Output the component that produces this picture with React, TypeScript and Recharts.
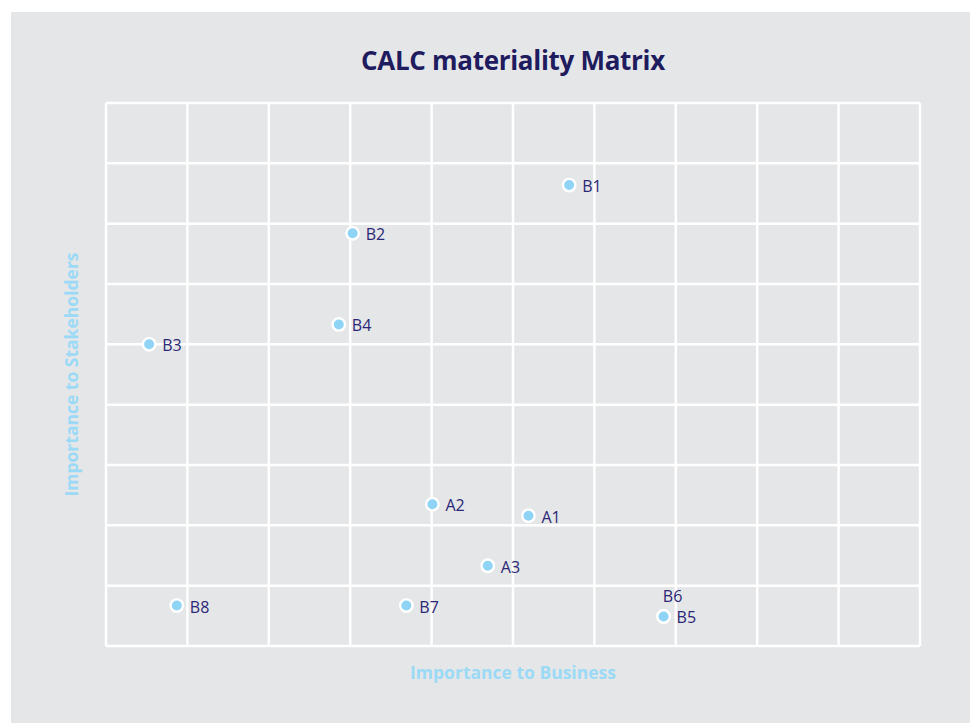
import React from 'react';
import { ScatterChart, Scatter, XAxis, YAxis, ZAxis, CartesianGrid, LabelList, Label } from 'recharts';

const pointNames = ['B1', 'B2', 'B4', 'B3', 'A2', 'A1', 'A3', 'B8', 'B7', 'B6', 'B5'];
const businessValues = [5.69, 3.03, 2.86, 0.53, 4.01, 5.19, 4.69, 0.87, 3.69, 6.85, 6.85];
const stakeholderValues = [7.64, 6.84, 5.33, 5.0, 2.35, 2.16, 1.33, 0.67, 0.67, 0.49, 0.49];
const xTicks = [0, 1, 2, 3, 4, 5, 6, 7, 8, 9, 10];
const yTicks = [0, 1, 2, 3, 4, 5, 6, 7, 8, 9];
const labelAbove = ['B6'];

const data = pointNames.map((name, i) => ({ name, x: businessValues[i], y: stakeholderValues[i] }));

const FONT = '"Open Sans", "Noto Sans", sans-serif';
const NAVY = '#2b2777';
const LIGHT_BLUE = '#9bdaf6';

const Dot = (props: any) => {
  const { cx, cy } = props;
  return <circle cx={cx} cy={cy} r={6.2} fill="#90d4f5" stroke="#ffffff" strokeWidth={2.4} />;
};

const EmptyTick = () => <g />;

const PointLabel = (props: any) => {
  const { viewBox, value } = props;
  if (!viewBox) return null;
  const cx = viewBox.x + (viewBox.width || 0) / 2;
  const cy = viewBox.y + (viewBox.height || 0) / 2;
  if (labelAbove.includes(value)) {
    return (
      <text x={cx + 9} y={cy - 20} textAnchor="middle" dominantBaseline="central" fill={NAVY} fontSize={16} fontFamily={FONT}>
        {value}
      </text>
    );
  }
  return (
    <text x={cx + 13} y={cy + 1} textAnchor="start" dominantBaseline="central" fill={NAVY} fontSize={16} fontFamily={FONT}>
      {value}
    </text>
  );
};

export default function App() {
  return (
    <div style={{ position: 'absolute', left: 0, top: 0, width: 970, height: 723, background: '#ffffff', overflow: 'hidden' }}>
      <div style={{ position: 'absolute', left: 11, top: 12, width: 959, height: 711, background: '#e5e6e8' }} />
      <div
        style={{
          position: 'absolute',
          left: 0,
          top: 43,
          width: 1026,
          textAlign: 'center',
          fontFamily: FONT,
          fontWeight: 700,
          fontSize: 26,
          lineHeight: '34px',
          color: '#1f1b5f',
          letterSpacing: -0.3,
        }}
      >
        CALC materiality Matrix
      </div>
      <div style={{ position: 'absolute', left: 0, top: 0 }}>
        <ScatterChart width={970} height={723} margin={{ top: 103, right: 50, bottom: 23, left: 38 }}>
          <CartesianGrid stroke="#ffffff" strokeWidth={2.5} vertical horizontal fill="none" />
          <XAxis
            type="number"
            dataKey="x"
            domain={[0, 10]}
            ticks={xTicks}
            tick={EmptyTick}
            tickLine={false}
            axisLine={false}
            height={54}
            interval={0}
            allowDataOverflow
          >
            <Label
              value="Importance to Business"
              position="center"
              fill={LIGHT_BLUE}
              fontSize={17.5}
              fontWeight={700}
              fontFamily={FONT}
            />
          </XAxis>
          <YAxis
            type="number"
            dataKey="y"
            domain={[0, 9]}
            ticks={yTicks}
            tick={EmptyTick}
            tickLine={false}
            axisLine={false}
            width={68}
            interval={0}
            allowDataOverflow
          >
            <Label
              value="Importance to Stakeholders"
              position="center"
              angle={-90}
              fill={LIGHT_BLUE}
              fontSize={17.5}
              fontWeight={700}
              fontFamily={FONT}
            />
          </YAxis>
          <ZAxis range={[113, 113]} />
          <Scatter data={data} shape={Dot} isAnimationActive={false}>
            <LabelList dataKey="name" content={PointLabel} />
          </Scatter>
        </ScatterChart>
      </div>
    </div>
  );
}
